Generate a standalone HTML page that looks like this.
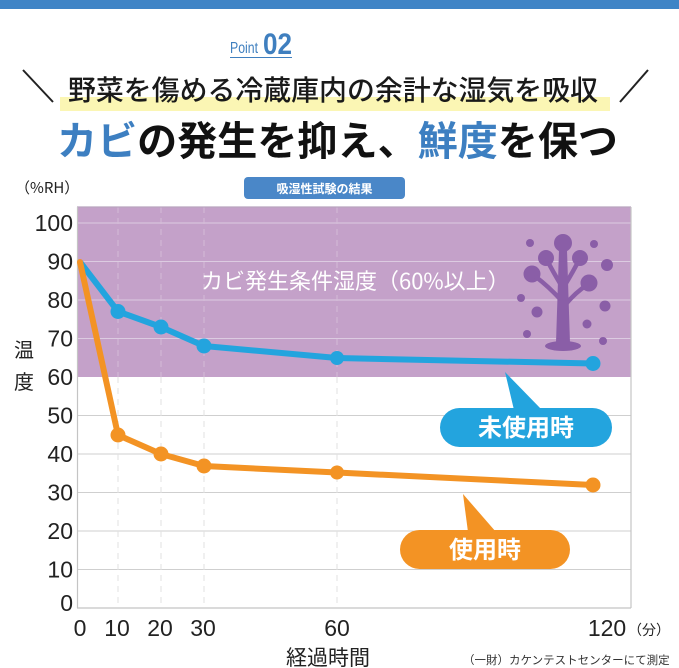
<!DOCTYPE html>
<html><head><meta charset="utf-8"><style>
html,body{margin:0;padding:0;background:#fff;}
svg{display:block;}
text{font-family:"Liberation Sans","Noto Sans CJK JP",sans-serif;}
.jp{font-family:"Noto Sans CJK JP","Liberation Sans",sans-serif;}
</style></head><body>
<svg width="679" height="668" viewBox="0 0 679 668" xmlns="http://www.w3.org/2000/svg">
<rect x="0" y="0" width="679" height="9" fill="#3f84c6"/>
<!-- Point 02 -->
<text x="230" y="53" font-size="16" fill="#3f7fbf" textLength="28" lengthAdjust="spacingAndGlyphs">Point</text>
<text x="263" y="54" font-size="30" font-weight="bold" fill="#3f7fbf" textLength="29" lengthAdjust="spacingAndGlyphs">02</text>
<line x1="230" y1="57.5" x2="292" y2="57.5" stroke="#3f7fbf" stroke-width="1"/>
<!-- header -->
<rect x="60" y="97" width="550" height="14" fill="#fbf6b4"/>
<line x1="23" y1="70" x2="53" y2="102" stroke="#222" stroke-width="2"/>
<line x1="620" y1="102" x2="648" y2="70" stroke="#222" stroke-width="2"/>
<text class="jp" x="68" y="100" font-size="28" font-weight="500" fill="#1a1a1a" textLength="530" lengthAdjust="spacingAndGlyphs">野菜を傷める冷蔵庫内の余計な湿気を吸収</text>
<!-- title -->
<text class="jp" x="57" y="155" font-size="40" font-weight="bold" fill="#111" textLength="561" lengthAdjust="spacingAndGlyphs"><tspan fill="#3d7fc1">カビ</tspan>の発生を抑え、<tspan fill="#3d7fc1">鮮度</tspan>を保つ</text>
<!-- (%RH) and button -->
<text class="jp" x="15" y="193" font-size="15" fill="#222">（%RH）</text>
<rect x="244" y="177" width="161" height="22" rx="4" fill="#4a87c8"/>
<text class="jp" x="324.5" y="193" font-size="12" font-weight="bold" fill="#fff" text-anchor="middle">吸湿性試験の結果</text>
<!-- plot -->
<rect x="77" y="207" width="554" height="170" fill="#c4a1c9"/>
<g stroke="#dccbe1" stroke-width="1">
<line x1="77" y1="223" x2="631" y2="223"/>
<line x1="77" y1="261.5" x2="631" y2="261.5"/>
<line x1="77" y1="300" x2="631" y2="300"/>
<line x1="77" y1="338.5" x2="631" y2="338.5"/>
</g>
<g stroke="#cfcfcf" stroke-width="1">
<line x1="77" y1="415.5" x2="631" y2="415.5"/>
<line x1="77" y1="454" x2="631" y2="454"/>
<line x1="77" y1="492.5" x2="631" y2="492.5"/>
<line x1="77" y1="531" x2="631" y2="531"/>
<line x1="77" y1="569.5" x2="631" y2="569.5"/>
</g>
<g stroke="#e0e0e0" stroke-width="1" stroke-dasharray="6,5">
<line x1="118" y1="377" x2="118" y2="608"/>
<line x1="161" y1="377" x2="161" y2="608"/>
<line x1="204" y1="377" x2="204" y2="608"/>
<line x1="337" y1="377" x2="337" y2="608"/>
</g>
<g stroke="#d3bcd8" stroke-width="1" stroke-dasharray="6,5">
<line x1="118" y1="207" x2="118" y2="377"/>
<line x1="161" y1="207" x2="161" y2="377"/>
<line x1="204" y1="207" x2="204" y2="377"/>
<line x1="337" y1="207" x2="337" y2="377"/>
</g>
<g stroke="#c4c4c4" stroke-width="1.2" fill="none">
<line x1="77" y1="207" x2="631" y2="207" stroke="#b9a5bf"/>
<line x1="77.5" y1="207" x2="77.5" y2="608"/>
<line x1="77" y1="608" x2="631" y2="608"/>
<line x1="631" y1="207" x2="631" y2="608"/>
</g>
<!-- mold label -->
<text class="jp" x="201" y="289" font-size="22" fill="#fff">カビ発生条件湿度（60%以上）</text>
<!-- tree icon -->
<g fill="#8a5ea7" stroke="none">
<path d="M559 250 L567 250 L570 343 L556 343 Z"/>
<ellipse cx="563" cy="346" rx="18" ry="5"/>
<circle cx="563" cy="243" r="9"/>
<circle cx="546" cy="258" r="8"/>
<circle cx="580" cy="258" r="8"/>
<circle cx="532" cy="274" r="8.5"/>
<circle cx="589" cy="283" r="8.5"/>
<circle cx="530" cy="243" r="4"/>
<circle cx="594" cy="244" r="4"/>
<circle cx="607" cy="265" r="6"/>
<circle cx="521" cy="298" r="4"/>
<circle cx="537" cy="312" r="5.5"/>
<circle cx="605" cy="306" r="5.5"/>
<circle cx="587" cy="324" r="4.5"/>
<circle cx="527" cy="334" r="4"/>
<circle cx="603" cy="341" r="4"/>
</g>
<g stroke="#8a5ea7" stroke-width="4.5" fill="none" stroke-linecap="round">
<path d="M561 300 Q548 286 536 277"/>
<path d="M565 305 Q576 292 587 285"/>
<path d="M561 285 Q552 270 547 260"/>
<path d="M565 285 Q574 270 579 260"/>
</g>
<!-- blue series -->
<polyline points="80,262 118,311.5 161,327 204,346 337,358 593,363.5" fill="none" stroke="#23a4de" stroke-width="6" stroke-linejoin="round"/>
<g fill="#23a4de">
<circle cx="118" cy="311.5" r="7.5"/><circle cx="161" cy="327" r="7.5"/><circle cx="204" cy="346" r="7.5"/><circle cx="337" cy="358" r="7"/><circle cx="593" cy="363.5" r="7.5"/>
</g>
<!-- orange series -->
<polyline points="80,262 118,435 161,454 204,466 337,472.5 593,485" fill="none" stroke="#f39324" stroke-width="6" stroke-linejoin="round"/>
<g fill="#f39324">
<circle cx="80" cy="262" r="3"/>
<circle cx="118" cy="435" r="7.5"/><circle cx="161" cy="454" r="7.5"/><circle cx="204" cy="466" r="7.5"/><circle cx="337" cy="472.5" r="7"/><circle cx="593" cy="485" r="7.5"/>
</g>
<!-- callouts -->
<path d="M505 372 L514 410 L542 410 Z" fill="#23a4de"/>
<rect x="440" y="408" width="172" height="39" rx="19.5" fill="#23a4de"/>
<text class="jp" x="526" y="436" font-size="24" font-weight="bold" fill="#fff" text-anchor="middle">未使用時</text>
<path d="M463 494 L468 532 L496 532 Z" fill="#f39324"/>
<rect x="400" y="530" width="170" height="39" rx="19.5" fill="#f39324"/>
<text class="jp" x="485" y="558" font-size="24" font-weight="bold" fill="#fff" text-anchor="middle">使用時</text>
<!-- y ticks -->
<g font-size="23" fill="#222" text-anchor="end">
<text x="73" y="231">100</text>
<text x="73" y="269.5">90</text>
<text x="73" y="308">80</text>
<text x="73" y="346.5">70</text>
<text x="73" y="385">60</text>
<text x="73" y="423.5">50</text>
<text x="73" y="462">40</text>
<text x="73" y="500.5">30</text>
<text x="73" y="539">20</text>
<text x="73" y="577.5">10</text>
<text x="73" y="611">0</text>
</g>
<text class="jp" x="14" y="357" font-size="20" fill="#222">温</text>
<text class="jp" x="14" y="389" font-size="20" fill="#222">度</text>
<!-- x ticks -->
<g font-size="23" fill="#222" text-anchor="middle">
<text x="80" y="636">0</text>
<text x="117" y="636">10</text>
<text x="160" y="636">20</text>
<text x="203" y="636">30</text>
<text x="337" y="636">60</text>
<text x="607" y="636">120</text>
</g>
<text class="jp" x="628" y="635" font-size="14" fill="#222">（分）</text>
<text class="jp" x="286" y="665" font-size="21" fill="#222">経過時間</text>
<text class="jp" x="463" y="664" font-size="11.5" fill="#333">（一財）カケンテストセンターにて測定</text>
</svg>
</body></html>
